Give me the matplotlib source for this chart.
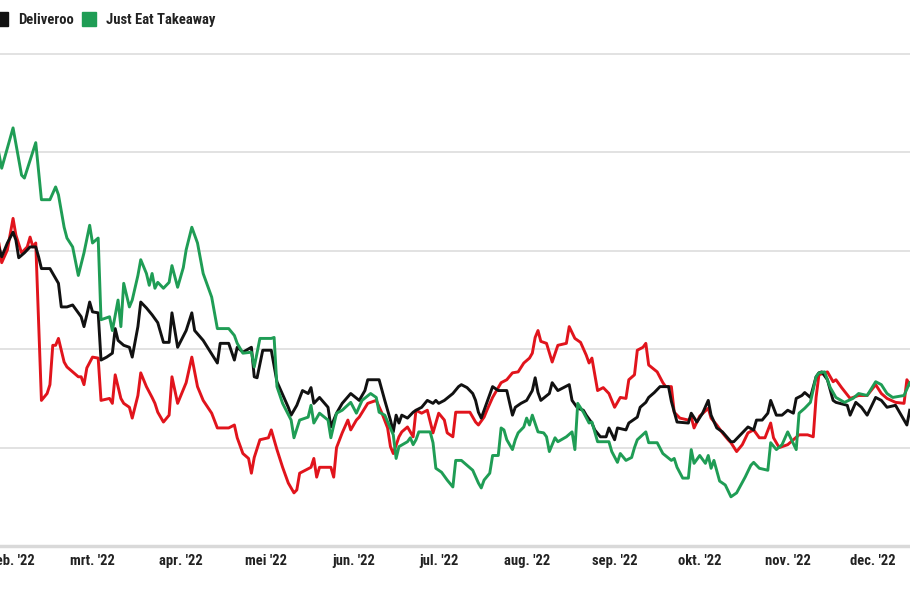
import numpy as np
import matplotlib
matplotlib.use("Agg")
import matplotlib.pyplot as plt
import matplotlib.dates as mdates
from matplotlib import font_manager as fm
from matplotlib.lines import Line2D

# x = days since 1 Jan 2022, y = value on the chart's index scale (grid every 100)
hero_days = [
    26, 27, 29, 31, 32, 34, 36, 37, 38, 39,
    41, 43, 44, 45, 46, 47, 49, 50, 52, 54,
    55, 56, 57, 59, 61, 62, 65, 66, 67, 69,
    70, 72, 73, 75, 76, 78, 80, 81, 82, 84,
    86, 87, 89, 92, 94, 96, 98, 101, 103, 107,
    109, 110, 112, 114, 115, 116, 118, 121, 122, 124,
    126, 128, 130, 131, 132, 134, 136, 137, 138, 139,
    143, 144, 145, 147, 149, 150, 152, 153, 156, 159,
    161, 163, 164, 165, 167, 168, 170, 172, 173, 175,
    177, 179, 181, 183, 184, 186, 187, 192, 194, 195,
    197, 198, 200, 203, 205, 207, 209, 211, 213, 214,
    215, 216, 217, 219, 221, 223, 226, 227, 229, 231,
    233, 234, 235, 237, 239, 241, 243, 245, 247, 248,
    250, 251, 253, 254, 255, 258, 260, 261, 263, 264,
    266, 269, 270, 271, 273, 276, 277, 279, 281, 283,
    284, 286, 288, 290, 292, 294, 296, 298, 299, 301,
    304, 308, 311, 313, 314, 315, 318, 320, 321, 323,
    326, 329, 332, 335, 337, 339, 342, 345, 346, 347,
]
hero_vals = [
    308, 288, 301, 333, 316, 298, 304, 314, 304, 308,
    148, 155, 164, 204, 204, 211, 187, 182, 177, 172,
    172, 164, 181, 192, 191, 148, 150, 145, 174, 150,
    145, 141, 130, 153, 176, 162, 151, 145, 136, 126,
    133, 172, 145, 166, 192, 162, 148, 135, 120, 120,
    123, 110, 94, 89, 74, 90, 108, 110, 118, 98,
    80, 64, 54, 57, 74, 77, 80, 89, 70, 80,
    80, 70, 100, 115, 128, 118, 128, 131, 145, 148,
    135, 120, 101, 94, 111, 116, 121, 111, 138, 135,
    138, 115, 135, 128, 115, 111, 136, 136, 126, 123,
    131, 138, 151, 166, 169, 176, 177, 186, 191, 196,
    212, 219, 208, 206, 187, 204, 206, 223, 211, 207,
    194, 186, 191, 158, 161, 155, 141, 151, 150, 169,
    174, 199, 202, 206, 184, 177, 166, 162, 162, 136,
    130, 128, 131, 120, 132, 140, 130, 123, 115, 108,
    105, 96, 103, 115, 118, 110, 110, 125, 110, 100,
    103, 113, 113, 111, 151, 174, 177, 167, 169, 161,
    150, 153, 153, 164, 155, 150, 146, 145, 169, 164,
]

roo_days = [
    26, 27, 29, 31, 32, 33, 35, 37, 39, 40,
    41, 44, 45, 47, 48, 50, 52, 54, 55, 56,
    57, 58, 59, 61, 62, 64, 66, 67, 68, 70,
    72, 73, 75, 76, 78, 80, 82, 84, 86, 87,
    89, 92, 94, 95, 98, 103, 104, 107, 109, 110,
    112, 115, 116, 117, 119, 122, 124, 128, 129, 131,
    133, 135, 136, 137, 139, 142, 143, 145, 147, 150,
    153, 155, 156, 159, 160, 162, 164, 165, 166, 167,
    168, 170, 172, 173, 175, 177, 179, 180, 181, 183,
    186, 188, 189, 191, 193, 194, 195, 196, 197, 198,
    200, 202, 205, 207, 208, 210, 212, 214, 215, 216,
    217, 220, 221, 223, 225, 227, 228, 230, 232, 233,
    235, 236, 238, 240, 241, 243, 244, 247, 248, 251,
    252, 254, 255, 257, 259, 262, 263, 265, 269, 270,
    272, 274, 276, 277, 279, 281, 284, 285, 288, 290,
    292, 293, 295, 297, 298, 300, 302, 304, 306, 307,
    309, 310, 312, 314, 315, 316, 318, 320, 321, 325,
    326, 328, 330, 332, 335, 337, 339, 342, 344, 346,
    347,
]
roo_vals = [
    304, 294, 308, 319, 311, 293, 298, 304, 304, 294,
    282, 282, 277, 267, 243, 243, 245, 237, 233, 223,
    235, 248, 238, 237, 189, 192, 196, 221, 209, 204,
    202, 192, 223, 248, 242, 235, 227, 207, 207, 237,
    202, 219, 237, 219, 209, 186, 206, 206, 189, 202,
    197, 202, 172, 171, 199, 199, 167, 141, 133, 143,
    158, 155, 161, 145, 151, 141, 121, 135, 145, 155,
    148, 158, 169, 169, 169, 148, 128, 116, 133, 125,
    133, 130, 136, 138, 141, 148, 145, 148, 145, 148,
    155, 162, 164, 161, 155, 148, 136, 130, 138, 146,
    162, 158, 158, 133, 141, 145, 148, 158, 171, 156,
    148, 155, 166, 158, 161, 164, 148, 140, 138, 133,
    125, 118, 111, 111, 120, 108, 120, 118, 125, 131,
    141, 146, 151, 156, 162, 162, 147, 126, 125, 135,
    126, 135, 148, 133, 120, 116, 106, 106, 115, 121,
    118, 128, 128, 135, 148, 133, 133, 138, 135, 150,
    153, 156, 151, 172, 176, 177, 169, 148, 146, 143,
    133, 146, 141, 133, 151, 148, 141, 143, 133, 123,
    138,
]

jet_days = [
    26, 27, 31, 34, 35, 39, 41, 44, 46, 47,
    49, 50, 52, 54, 56, 58, 59, 61, 62, 65,
    66, 68, 69, 70, 72, 73, 75, 76, 78, 79,
    80, 81, 82, 84, 86, 87, 89, 91, 92, 94,
    96, 98, 101, 103, 107, 109, 110, 112, 115, 116,
    118, 122, 123, 124, 126, 129, 130, 132, 135, 136,
    137, 139, 142, 143, 145, 147, 150, 152, 154, 157,
    159, 160, 162, 165, 166, 167, 170, 171, 172, 173,
    174, 178, 179, 180, 182, 184, 186, 187, 189, 191,
    193, 195, 196, 197, 199, 200, 202, 203, 204, 205,
    207, 208, 209, 211, 212, 213, 214, 216, 218, 219,
    220, 222, 223, 226, 228, 229, 230, 232, 234, 235,
    237, 241, 242, 244, 245, 247, 249, 250, 251, 254,
    255, 258, 260, 263, 264, 265, 267, 269, 270, 271,
    273, 275, 276, 277, 278, 280, 282, 284, 286, 289,
    291, 292, 294, 297, 298, 300, 302, 304, 307, 308,
    310, 312, 314, 315, 317, 319, 321, 324, 327, 329,
    332, 335, 337, 339, 341, 345, 347,
]
jet_vals = [
    399, 384, 425, 377, 374, 410, 352, 352, 365, 357,
    324, 313, 304, 275, 298, 326, 308, 313, 230, 233,
    219, 250, 223, 267, 243, 250, 275, 291, 277, 265,
    277, 262, 268, 262, 268, 285, 263, 283, 301, 324,
    308, 277, 253, 221, 221, 214, 206, 196, 197, 182,
    211, 211, 212, 162, 145, 128, 110, 128, 131, 143,
    125, 135, 128, 110, 135, 138, 146, 135, 148, 155,
    151, 136, 133, 113, 89, 101, 106, 110, 103, 108,
    116, 116, 105, 79, 75, 67, 60, 87, 87, 82,
    77, 64, 59, 67, 74, 92, 92, 120, 118, 108,
    98, 108, 115, 121, 130, 123, 133, 116, 115, 111,
    96, 110, 106, 111, 116, 98, 145, 136, 125, 126,
    106, 106, 96, 85, 94, 87, 90, 100, 108, 116,
    105, 105, 94, 87, 89, 80, 69, 69, 98, 84,
    92, 84, 92, 79, 87, 66, 62, 50, 54, 70,
    82, 85, 79, 77, 105, 98, 103, 116, 98, 135,
    140, 146, 172, 176, 177, 161, 151, 146, 150, 155,
    153, 167, 164, 155, 151, 153, 166,
]

names = ["Delivery Hero", "Deliveroo", "Just Eat Takeaway"]
colors = ["#e1141c", "#111111", "#1f9d55"]
month_starts = ["2022-02-01", "2022-03-01", "2022-04-01", "2022-05-01", "2022-06-01", "2022-07-01",
                "2022-08-01", "2022-09-01", "2022-10-01", "2022-11-01", "2022-12-01"]
month_labels = ["feb. '22", "mrt. '22", "apr. '22", "mei '22", "jun. '22", "jul. '22",
                "aug. '22", "sep. '22", "okt. '22", "nov. '22", "dec. '22"]
grid_levels = [100, 200, 300, 400, 500]


def pick_narrow_font():
    # the original uses a condensed face; take the first narrow one that is installed
    candidates = [("Liberation Sans Narrow", "normal"), ("Roboto Condensed", "normal"),
                  ("DejaVu Sans", "condensed"), ("Noto Sans", "condensed"),
                  ("Open Sans", "condensed"), ("Roboto", "condensed")]
    for family, stretch in candidates:
        try:
            path = fm.findfont(fm.FontProperties(family=family, stretch=stretch),
                               fallback_to_default=False)
        except ValueError:
            continue
        if family.endswith(("Narrow", "Condensed")) or "ondensed" in path or "arrow" in path:
            return family, stretch
    return "DejaVu Sans", "normal"


font_family, font_stretch = pick_narrow_font()
plt.rcParams["font.family"] = [font_family, "DejaVu Sans"]
plt.rcParams["font.stretch"] = font_stretch

fig = plt.figure(figsize=(9.1, 5.96), dpi=100)
ax = fig.add_axes([0, 50 / 596, 1, 546 / 596])

start = np.datetime64("2022-01-01")
series = [(hero_days, hero_vals), (roo_days, roo_vals), (jet_days, jet_vals)]
for (days, vals), name, color in zip(series, names, colors):
    ax.plot(start + np.array(days), vals, color=color, lw=2.1, label=name, zorder=3)

base = mdates.date2num(start)
ax.set_xlim(base + 26.4, base + 347.1)
ax.set_ylim(0, 555)

ax.set_yticks(grid_levels)
ax.yaxis.grid(True, color="#dddddd", lw=1.2)
ax.axhline(0, color="#d9d9d9", lw=2.5, clip_on=False, zorder=1)
ax.tick_params(axis="y", length=0, labelleft=False)

ax.set_xticks(mdates.date2num(np.array(month_starts, dtype="datetime64[D]")))
ax.set_xticklabels(month_labels, fontsize=10.5, color="#222222", fontweight="semibold")
ax.tick_params(axis="x", length=0, pad=6)

for side in ax.spines.values():
    side.set_visible(False)

handles = [Line2D([], [], ls="none", marker="s", ms=9.5, color=c) for c in colors]
leg = fig.legend(handles, names, loc="upper left", bbox_to_anchor=(-0.2, 0.985), ncol=3,
                 frameon=False, handlelength=0.85, handletextpad=0.75, columnspacing=0.6,
                 borderpad=0, borderaxespad=0,
                 prop={"size": 10.5, "weight": "semibold"})
for txt in leg.get_texts():
    txt.set_color("#222222")

# slide the legend so that "Deliveroo" starts where it does in the original;
# the first entry then sits off the left edge, as in the cropped original
fig.canvas.draw()
renderer = fig.canvas.get_renderer()
box = leg.get_texts()[1].get_window_extent(renderer)
dx = 18 - box.x0
dy = (596 - 20) - (box.y0 + box.y1) / 2
leg.set_bbox_to_anchor((-0.2 + dx / 910, 0.985 + dy / 596), transform=fig.transFigure)

fig.savefig("out.png", dpi=100)
